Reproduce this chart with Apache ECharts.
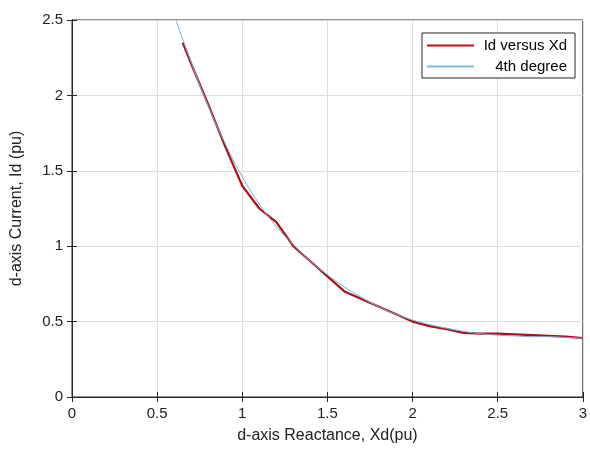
<!DOCTYPE html>
<html>
<head>
<meta charset="utf-8">
<script src="https://cdn.jsdelivr.net/npm/echarts@6/dist/echarts.min.js"></script>
<style>
  html, body { margin: 0; padding: 0; background: #fff; }
  #chart { width: 590px; height: 452px; }
</style>
</head>
<body>
<div id="chart"></div>
<script>
// Measured d-axis current versus d-axis reactance (per unit)
const xdMeasured = [0.65, 0.7, 0.8, 0.9, 1.0, 1.1, 1.2, 1.3, 1.4, 1.5, 1.6, 1.7, 1.8, 1.9, 2.0, 2.1, 2.2, 2.3, 2.4, 2.5, 2.6, 2.7, 2.8, 2.9, 3.0];
const idMeasured = [2.35, 2.21, 1.94, 1.66, 1.40, 1.25, 1.16, 1.00, 0.90, 0.80, 0.70, 0.65, 0.60, 0.55, 0.50, 0.47, 0.45, 0.425, 0.42, 0.42, 0.415, 0.41, 0.405, 0.40, 0.39];

// 4th degree polynomial fit, sampled along Xd
const xdFit = [0.61, 0.7, 0.8, 0.9, 1.0, 1.1, 1.2, 1.3, 1.4, 1.5, 1.6, 1.7, 1.8, 1.9, 2.0, 2.1, 2.2, 2.3, 2.4, 2.5, 2.6, 2.7, 2.8, 2.9, 3.0];
const idFit = [2.50, 2.22, 1.93, 1.68, 1.46, 1.28, 1.13, 1.01, 0.90, 0.81, 0.73, 0.66, 0.60, 0.55, 0.51, 0.48, 0.455, 0.435, 0.42, 0.41, 0.405, 0.40, 0.40, 0.395, 0.39];

// Axis ticks
const xTicks = [0, 0.5, 1, 1.5, 2, 2.5, 3];
const yTicks = [0, 0.5, 1, 1.5, 2, 2.5];

const seriesNames = ['Id versus Xd', '4th degree'];

const font = 'Liberation Sans, Arial, Helvetica, sans-serif';
const pair = (xs, ys) => xs.map((x, i) => [x, ys[i]]);

const chart = echarts.init(document.getElementById('chart'), null, { renderer: 'canvas' });

const baseAxisLine = { show: true, lineStyle: { color: '#262626', width: 1 } };
const tickStyle = { show: true, inside: true, length: 5, lineStyle: { color: '#262626' } };

chart.setOption({
  animation: false,
  backgroundColor: '#fff',
  grid: { left: 72, top: 20, right: 3, bottom: 55, show: true, borderColor: '#262626', borderWidth: 1 },
  legend: {
    right: 15, top: 33,
    orient: 'vertical',
    itemWidth: 47, itemHeight: 10, itemGap: 6,
    padding: [5, 8, 4, 5],
    borderColor: '#262626', borderWidth: 1, borderRadius: 0,
    backgroundColor: '#fff',
    icon: 'path://M0,4 L47,4 L47,6 L0,6 Z',
    data: seriesNames,
    formatter: name => '{r|' + name + '}',
    textStyle: {
      fontFamily: font, fontSize: 15, color: '#000',
      rich: { r: { width: 88, align: 'right', fontFamily: font, fontSize: 15, color: '#000' } }
    }
  },
  xAxis: [{
    type: 'value', min: 0, max: 3, interval: 0.5,
    name: 'd-axis Reactance, Xd(pu)', nameLocation: 'middle', nameGap: 31,
    nameTextStyle: { fontFamily: font, fontSize: 16, color: '#222' },
    axisLine: baseAxisLine, axisTick: tickStyle,
    axisLabel: { fontFamily: font, fontSize: 15, color: '#222', margin: 9,
      formatter: v => xTicks.includes(v) ? String(v) : '' },
    splitLine: { show: true, lineStyle: { color: '#dedede', width: 1 } }
  }, {
    type: 'value', min: 0, max: 3, interval: 0.5, position: 'top',
    axisLine: baseAxisLine, axisTick: tickStyle,
    axisLabel: { show: false }, splitLine: { show: false }
  }],
  yAxis: [{
    type: 'value', min: 0, max: 2.5, interval: 0.5,
    name: 'd-axis Current, Id (pu)', nameLocation: 'middle', nameGap: 47,
    nameTextStyle: { fontFamily: font, fontSize: 16, color: '#222' },
    axisLine: baseAxisLine, axisTick: tickStyle,
    axisLabel: { fontFamily: font, fontSize: 15, color: '#222', margin: 9,
      formatter: v => yTicks.includes(v) ? String(v) : '' },
    splitLine: { show: true, lineStyle: { color: '#dedede', width: 1 } }
  }, {
    type: 'value', min: 0, max: 2.5, interval: 0.5, position: 'right',
    axisLine: baseAxisLine, axisTick: tickStyle,
    axisLabel: { show: false }, splitLine: { show: false }
  }],
  series: [{
    name: seriesNames[0], type: 'line',
    data: pair(xdMeasured, idMeasured),
    showSymbol: false, smooth: false,
    color: '#b5101a',
    lineStyle: { color: '#ad0f18', width: 2.2 },
    z: 3
  }, {
    name: seriesNames[1], type: 'line',
    data: pair(xdFit, idFit),
    showSymbol: false, smooth: 0.4,
    color: '#7cc0d8',
    lineStyle: { color: '#6fb4cf', width: 1 },
    clip: true,
    z: 4
  }]
});
</script>
</body>
</html>
